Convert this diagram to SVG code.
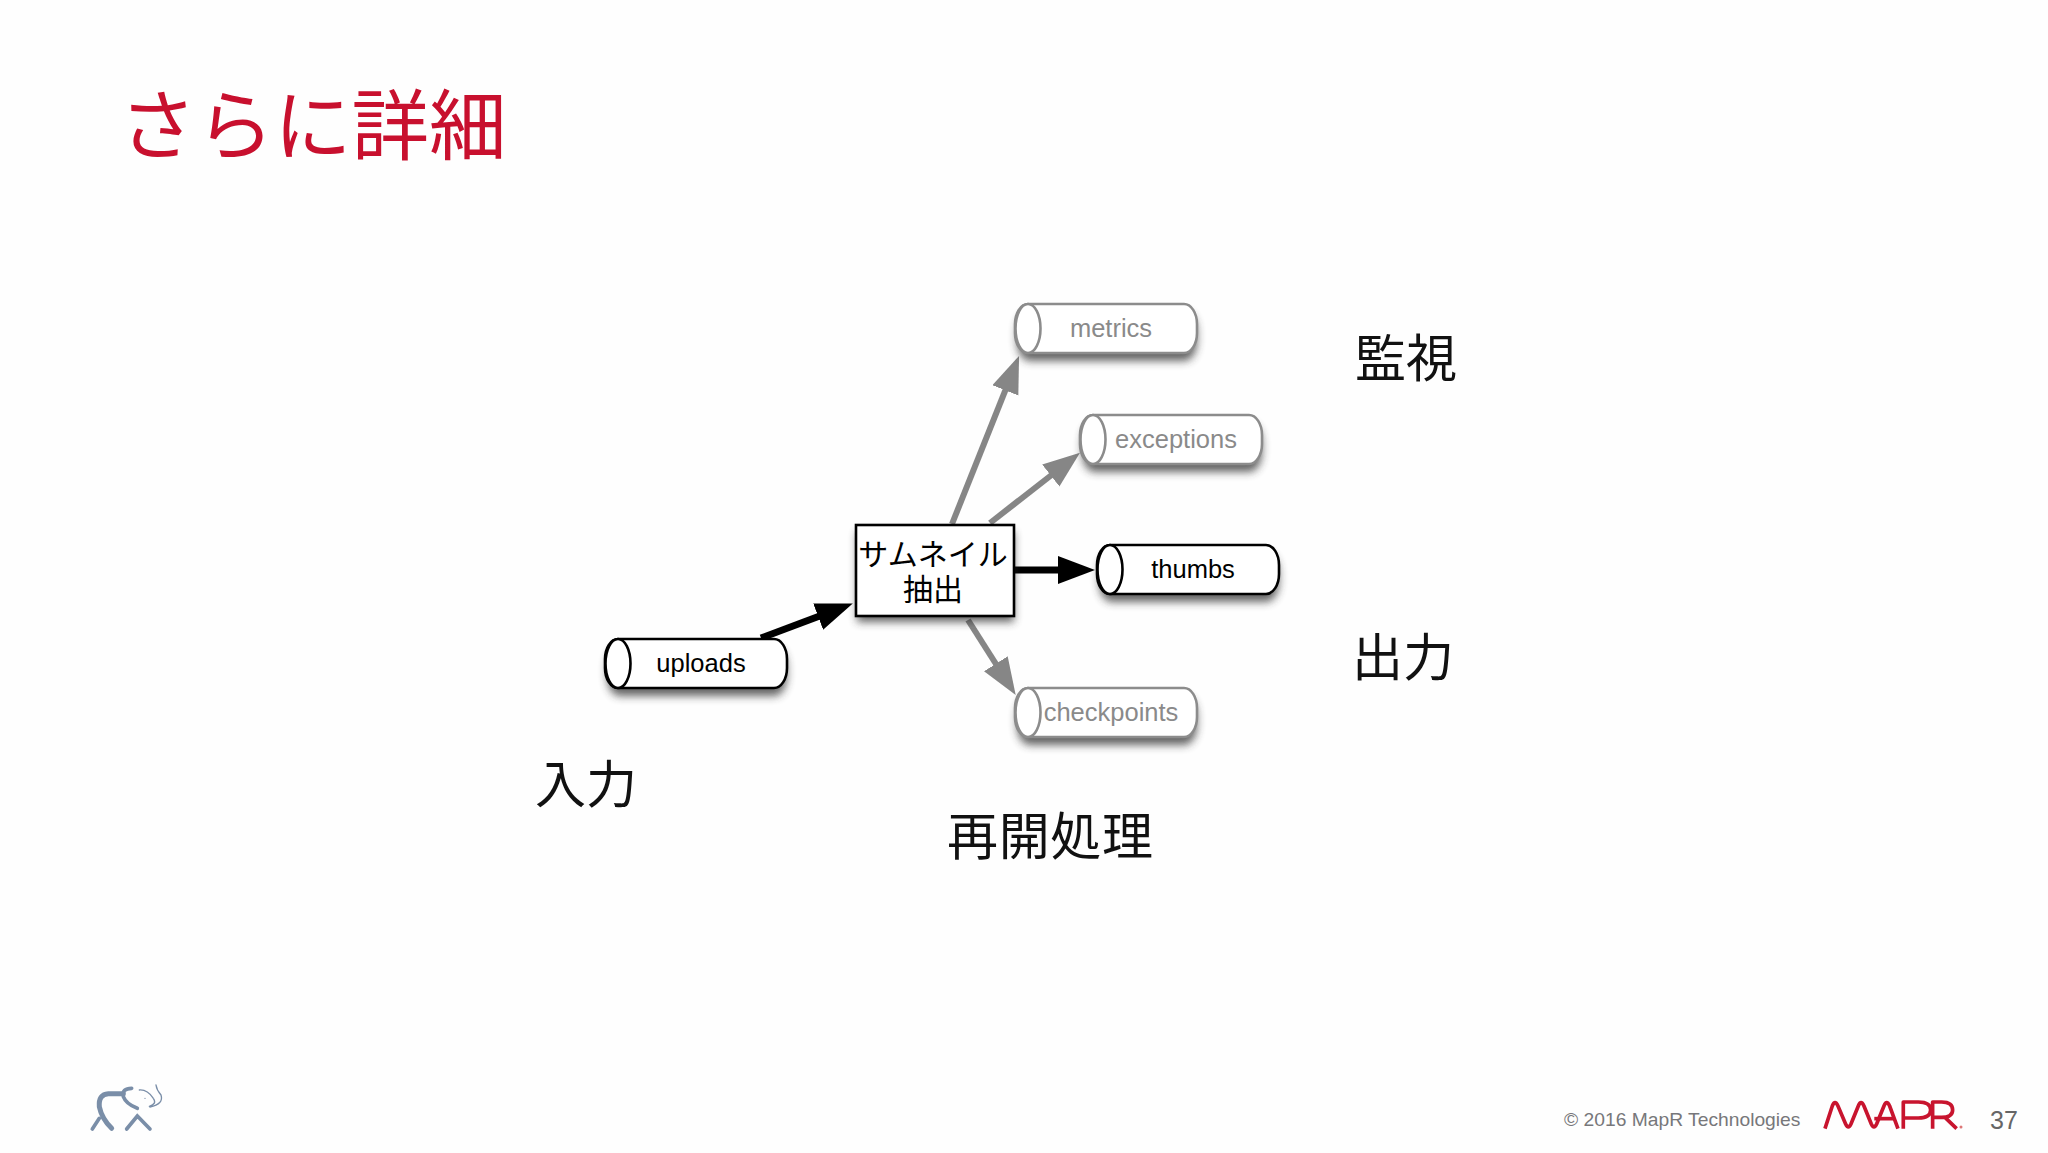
<svg xmlns="http://www.w3.org/2000/svg" width="2048" height="1153" viewBox="0 0 2048 1153">
<style>
.jp{font-family:"Noto Sans CJK JP","Noto Sans CJK SC",sans-serif}
.lat{font-family:"Liberation Sans",Arial,sans-serif}
.lab{font-size:51px;fill:#111}
.t{font-size:25.5px;text-anchor:middle;stroke:none}
.k{stroke:#000}.k text{fill:#000}
.g{stroke:#8c8c8c}.g text{fill:#8a8a8a}
.cb{fill:#fff;stroke-width:2.6}
.con{fill:none}
.ck{stroke:#000;stroke-width:7;marker-end:url(#ak)}
.cg{stroke:#868686;stroke-width:6;marker-end:url(#ag)}
</style>
<defs>
<filter id="s" x="-20%" y="-50%" width="140%" height="200%"><feGaussianBlur stdDeviation="4.5"/></filter>
<marker id="ak" markerUnits="userSpaceOnUse" markerWidth="40" markerHeight="30" refX="18" refY="14" orient="auto"><path d="M0 0L37 14L0 28z" fill="#000"/></marker>
<marker id="ag" markerUnits="userSpaceOnUse" markerWidth="40" markerHeight="30" refX="18" refY="14" orient="auto"><path d="M0 0L37 14L0 28z" fill="#868686"/></marker>
<rect id="cs" x="2" y="8" width="180" height="49" rx="13" ry="20" fill="#333" opacity=".75" filter="url(#s)" stroke="none"/>
<g id="cyl"><rect class="cb" width="182" height="49" rx="13" ry="20"/><ellipse class="cb" cx="13" cy="24.5" rx="12.5" ry="24.5"/></g>
</defs>
<rect width="2048" height="1153" fill="#fefefe"/>
<text id="title" class="jp" x="119" y="154" font-size="77.5" fill="#c8102e">さらに詳細</text>
<g id="connectors" class="con">
<path class="cg" d="M952 524L1012 373.6"/>
<path class="cg" d="M990 523L1065 464.5"/>
<path class="ck" d="M1014 570H1076"/>
<path class="ck" d="M761 638L835 610.2"/>
<path class="cg" d="M968 620L1005.5 679"/>
</g>
<g id="node-extract">
<rect x="857" y="532" width="157" height="90" fill="#333" opacity=".75" filter="url(#s)"/>
<rect x="856" y="525" width="158" height="91" fill="#fff" stroke="#000" stroke-width="2.6"/>
<text class="jp" font-size="30" text-anchor="middle" fill="#000"><tspan x="933" y="565">サムネイル</tspan><tspan x="933" y="600">抽出</tspan></text>
</g>
<g id="node-metrics" class="g"><use href="#cs" x="1015" y="304"/><use href="#cyl" x="1015" y="304"/><text class="lat t" x="1111" y="337">metrics</text></g>
<g id="node-exceptions" class="g"><use href="#cs" x="1080" y="415"/><use href="#cyl" x="1080" y="415"/><text class="lat t" x="1176" y="448">exceptions</text></g>
<g id="node-thumbs" class="k"><use href="#cs" x="1097" y="545"/><use href="#cyl" x="1097" y="545"/><text class="lat t" x="1193" y="578">thumbs</text></g>
<g id="node-uploads" class="k"><use href="#cs" x="605" y="639"/><use href="#cyl" x="605" y="639"/><text class="lat t" x="701" y="672">uploads</text></g>
<g id="node-checkpoints" class="g"><use href="#cs" x="1015" y="688"/><use href="#cyl" x="1015" y="688"/><text class="lat t" x="1111" y="721">checkpoints</text></g>
<text id="lbl-input" class="jp lab" x="535" y="803" font-size="50">入力</text>
<text id="lbl-resume" class="jp lab" x="947" y="855" textLength="206">再開処理</text>
<text id="lbl-monitor" class="jp lab" x="1355" y="377">監視</text>
<text id="lbl-output" class="jp lab" x="1352" y="676">出力</text>
<g id="footer">
<text class="lat" x="1564" y="1126" font-size="19.25" fill="#77777a">© 2016 MapR Technologies</text>
<g id="mapr-logo" transform="translate(1540 1080) scale(.3333)" fill="none" stroke="#c8142e" stroke-width="11" stroke-linejoin="round">
<path d="M855 146L877 78Q885 58 894 78L917 132Q925 150 933 132L955 78Q963 58 972 78L994 132Q1002 150 1010 132L1032 78Q1040 58 1049 78L1074 146"/>
<path d="M1003 116H1060"/>
<path d="M1090 146V66H1135Q1172 66 1172 90Q1172 114 1135 114H1090"/>
<path d="M1178 146V66H1205Q1238 66 1238 90Q1238 112 1205 112H1178M1215 112L1250 146"/>
</g>
<circle cx="1961" cy="1127" r="1.5" fill="#d77"/>
<text class="lat" x="1990" y="1129" font-size="25" fill="#666">37</text>
<g id="elephant" transform="translate(60 1060) scale(.3333)" fill="none" stroke="#7a8ea8" stroke-linecap="round">
<path d="M155 205Q125 175 118 140Q115 103 145 101H190" stroke-width="15"/>
<path d="M215 85Q185 85 190 110Q198 132 232 145" stroke-width="11"/>
<path d="M97 207L118 175" stroke-width="11"/>
<path d="M200 207L232 168L270 207" stroke-width="11"/>
<path d="M238 90Q262 88 280 115Q292 132 268 139" stroke-width="4"/>
<path d="M288 75Q290 90 303 105Q312 132 270 141" stroke-width="4"/>
<circle cx="255" cy="115" r="2" fill="#7a8ea8" stroke="none"/>
</g>
</g>
</svg>
